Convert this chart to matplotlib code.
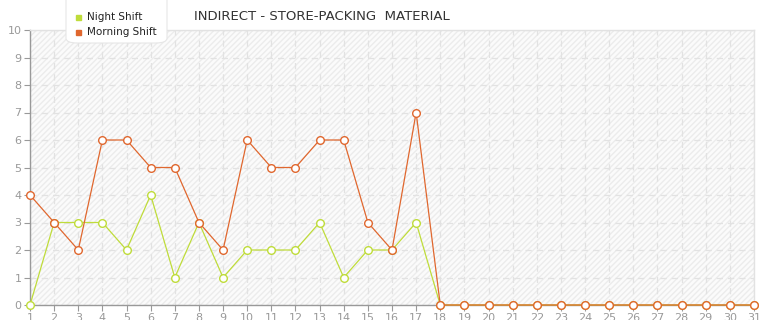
import matplotlib
matplotlib.use("Agg")
import matplotlib.pyplot as plt
from matplotlib.patches import FancyBboxPatch

days = list(range(1, 32))
night_shift = [0, 3, 3, 3, 2, 4, 1, 3, 1, 2, 2, 2, 3, 1, 2, 2, 3, 0,
               0, 0, 0, 0, 0, 0, 0, 0, 0, 0, 0, 0, 0]
morning_shift = [4, 3, 2, 6, 6, 5, 5, 3, 2, 6, 5, 5, 6, 6, 3, 2, 7, 0,
                 0, 0, 0, 0, 0, 0, 0, 0, 0, 0, 0, 0, 0]
y_ticks = list(range(0, 11))

NIGHT_COLOR = "#bfdc3a"
MORNING_COLOR = "#e0672e"

fig = plt.figure(figsize=(7.65, 3.2), dpi=100)
fig.patch.set_facecolor("white")
ax = fig.add_axes([30 / 765, 15 / 320, 724 / 765, 275 / 320])

# fond hachuré clair
ax.set_facecolor("#fbfbfb")
ax.fill_between([1, 31], 0, 10, facecolor="none", edgecolor="#ececec",
                hatch="//////", linewidth=0, zorder=0)
plt.rcParams["hatch.linewidth"] = 0.5

ax.plot(days, night_shift, color=NIGHT_COLOR, lw=0.9, marker="o", ms=5.5,
        mfc="white", mec=NIGHT_COLOR, mew=1.0, zorder=3, clip_on=False)
ax.plot(days, morning_shift, color=MORNING_COLOR, lw=0.9, marker="o", ms=5.5,
        mfc="white", mec=MORNING_COLOR, mew=1.0, zorder=4, clip_on=False)

ax.set_xlim(1, 31)
ax.set_ylim(0, 10)
ax.set_xticks(days)
ax.set_yticks(y_ticks)
ax.grid(True, color="#e2e2e2", linestyle=(0, (5, 4)), linewidth=0.9)
ax.set_axisbelow(True)

for s in ["left", "bottom"]:
    ax.spines[s].set_color("#999999")
    ax.spines[s].set_linewidth(1.0)
for s in ["top", "right"]:
    ax.spines[s].set_color("#e2e2e2")
    ax.spines[s].set_linewidth(1.0)

ax.tick_params(axis="y", colors="#999999", labelcolor="#999999", labelsize=8,
               length=4, width=0.8, pad=2)
ax.tick_params(axis="x", colors="#999999", labelcolor="#999999", labelsize=8,
               length=4, width=0.8, pad=2)

fig.text(322 / 765, 1 - 17 / 320, "INDIRECT - STORE-PACKING  MATERIAL",
         ha="center", va="center", fontsize=9.5, color="#333333")

# legende avec boite arrondie
box = FancyBboxPatch((66 / 765, 1 - 43 / 320), 101 / 765, 50 / 320,
                     boxstyle="round,pad=0,rounding_size=0.015",
                     transform=fig.transFigure, facecolor="white",
                     edgecolor="#e6e6e6", linewidth=0.8, zorder=10)
fig.patches.append(box)
fig.patches.append(plt.Rectangle((76 / 765, 1 - 20 / 320), 5 / 765, 5 / 320,
                                 transform=fig.transFigure,
                                 color=NIGHT_COLOR, zorder=11))
fig.patches.append(plt.Rectangle((76 / 765, 1 - 35 / 320), 5 / 765, 5 / 320,
                                 transform=fig.transFigure,
                                 color=MORNING_COLOR, zorder=11))
fig.text(87 / 765, 1 - 17.5 / 320, "Night Shift", ha="left", va="center",
         fontsize=7.5, color="#222222", zorder=12)
fig.text(87 / 765, 1 - 32 / 320, "Morning Shift", ha="left", va="center",
         fontsize=7.5, color="#222222", zorder=12)

fig.savefig("out.png", dpi=100)
